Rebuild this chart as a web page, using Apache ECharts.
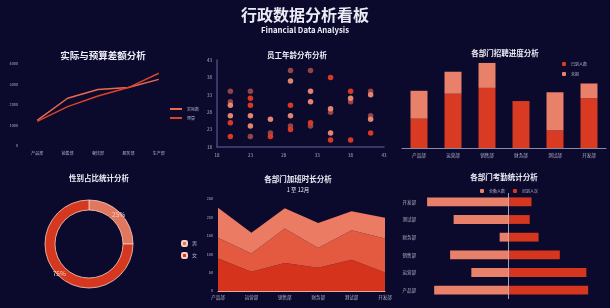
<!DOCTYPE html>
<html>
<head>
<meta charset="utf-8">
<title>行政数据分析看板</title>
<script src="https://cdn.jsdelivr.net/npm/echarts@6/dist/echarts.min.js"></script>
<style>
  html, body { margin: 0; padding: 0; background: #0b0a2d; }
  #main { width: 610px; height: 308px; }
</style>
</head>
<body>
<div id="main"></div>
<script>
// 数据区
var budgetDepts = ['产品部', '销售部', '餐饮部', '服务部', '生产部'];
var actualValues = [1250, 2330, 2760, 2850, 3250];
var budgetValues = [1200, 1920, 2440, 2850, 3550];

var depts = ['产品部', '运营部', '销售部', '财务部', '测试部', '开发部'];

// 员工年龄散点 [x, y]
var ageGroupA = [[20, 34], [20, 31], [23, 34], [23, 21], [26, 22], [29, 40], [29, 24], [32, 40], [32, 24], [35, 28], [38, 31], [41, 34], [41, 27]];
var ageGroupB = [[20, 30], [20, 27], [23, 27], [23, 24], [26, 26], [29, 37], [29, 27], [32, 34], [32, 31], [35, 29], [35, 22], [38, 32], [41, 33], [41, 26]];
var ageGroupC = [[20, 25], [20, 21], [23, 32], [23, 30], [26, 21], [29, 30], [29, 23], [32, 25], [35, 38], [35, 20], [38, 34], [38, 20], [41, 22]];

// 招聘进度
var arrivedValues = [20, 37, 41, 32, 12, 34];
var pendingValues = [19, 15, 17, 0, 26, 10];

// 性别占比
var genderNames = ['男', '女'];
var genderValues = [25, 75];

// 加班时长
var overtimeA = [88, 52, 76, 63, 85, 50];
var overtimeB = [57, 50, 94, 54, 80, 93];
var overtimeC = [81, 56, 55, 68, 52, 56];

// 考勤
var fullAttendance = [42, 21, 33, 5, 31, 46];
var lateCount = [45, 44, 29, 17, 12, 13];

(function () {
  var myChart = echarts.init(document.getElementById('main'))
  var labelColor = '#b4b4c8'
  var font = '"Noto Sans CJK SC", "Noto Sans", sans-serif'
  // 数字不加千分位
  var plain = function (v) { return String(v) }

  function title(text, x, y, size, weight) {
    return {
      type: 'text', x: x, y: y,
      style: {
        text: text, fill: '#ecebf5', textAlign: 'center', textVerticalAlign: 'middle',
        font: (weight || 'bold') + ' ' + size + 'px ' + font
      }
    }
  }

  var option = {
    backgroundColor: '#0b0a2d',
    textStyle: { fontFamily: font },
    graphic: [
      title('行政数据分析看板', 305, 15, 16),
      title('Financial Data Analysis', 305, 30.5, 7.8),
      title('实际与预算差额分析', 103, 55, 9.5),
      title('员工年龄分布分析', 297, 55, 7.5),
      title('各部门招聘进度分析', 505, 53, 7.5),
      title('性别占比统计分析', 99, 178, 7.5),
      title('各部门加班时长分析', 298, 179, 7.5),
      title('1 至 12月', 298, 190, 5.5, 'normal'),
      title('各部门考勤统计分析', 504, 177, 7.5)
    ],
    legend: [
      {
        data: ['实际数', '预算'], orient: 'vertical', left: 165, top: 102,
        itemWidth: 12, itemHeight: 2, itemGap: 5, icon: 'rect',
        textStyle: { color: labelColor, fontSize: 4 }
      },
      {
        data: ['已到人数', '未报'], left: 557, top: 57,
        itemWidth: 4, itemHeight: 4, itemGap: 6, icon: 'roundRect',
        textStyle: { color: labelColor, fontSize: 4 }
      },
      {
        data: genderNames, orient: 'vertical', left: 176, top: 235,
        itemWidth: 5, itemHeight: 5, itemGap: 5, icon: 'roundRect',
        textStyle: { color: labelColor, fontSize: 5 }
      },
      {
        data: ['全勤人数', '迟到人次'], left: 475, top: 184,
        itemWidth: 4, itemHeight: 4, itemGap: 8, icon: 'roundRect',
        textStyle: { color: labelColor, fontSize: 4 }
      }
    ],
    grid: [
      { left: 22, top: 64, width: 152, height: 82 },
      { left: 217, top: 60, width: 167, height: 87 },
      { left: 402, top: 60, width: 204, height: 88 },
      { left: 218, top: 199, width: 167, height: 92 },
      { left: 420, top: 193, width: 177, height: 106 }
    ],
    xAxis: [
      {
        gridIndex: 0, type: 'category', data: budgetDepts,
        axisLine: { show: false }, axisTick: { show: false },
        axisLabel: { color: labelColor, fontSize: 4, margin: 5 }
      },
      {
        gridIndex: 1, type: 'value', min: 18, max: 43, interval: 5,
        axisLine: { lineStyle: { color: '#48487a', width: 1.5 } }, axisTick: { show: false },
        splitLine: { show: false },
        axisLabel: { color: labelColor, fontSize: 4.5, margin: 6 }
      },
      {
        gridIndex: 2, type: 'category', data: depts,
        axisLine: { lineStyle: { color: '#8a8aa8' } }, axisTick: { show: false },
        axisLabel: { color: labelColor, fontSize: 4.5, margin: 5 }
      },
      {
        gridIndex: 3, type: 'category', data: depts, boundaryGap: false,
        axisLine: { lineStyle: { color: '#e8a898' } }, axisTick: { show: false },
        axisLabel: { color: labelColor, fontSize: 4.5, margin: 4 }
      },
      {
        gridIndex: 4, type: 'value', min: -50, max: 50, show: false
      }
    ],
    yAxis: [
      {
        gridIndex: 0, type: 'value', min: 0, max: 4000, interval: 1000,
        axisLine: { show: false }, axisTick: { show: false }, splitLine: { show: false },
        axisLabel: { color: labelColor, fontSize: 3.8, margin: 4, formatter: plain }
      },
      {
        gridIndex: 1, type: 'value', min: 18, max: 43, interval: 5,
        axisLine: { show: true, lineStyle: { color: '#48487a', width: 1.5 } }, axisTick: { show: false },
        splitLine: { show: false },
        axisLabel: { color: labelColor, fontSize: 4.5, margin: 5 }
      },
      {
        gridIndex: 2, type: 'value', min: 0, max: 60, show: false
      },
      {
        gridIndex: 3, type: 'value', min: 0, max: 250, interval: 50,
        axisLine: { show: false }, axisTick: { show: false }, splitLine: { show: false },
        axisLabel: { color: labelColor, fontSize: 3.8, margin: 5, formatter: plain }
      },
      {
        gridIndex: 4, type: 'category', data: depts,
        axisLine: { show: false, onZero: false }, axisTick: { show: false },
        axisLabel: { color: labelColor, fontSize: 4.5, margin: 4 }
      }
    ],
    series: [
      // 实际与预算
      {
        name: '实际数', type: 'line', xAxisIndex: 0, yAxisIndex: 0, data: actualValues,
        symbol: 'none', lineStyle: { width: 1.5, color: '#ea6a4f' }, itemStyle: { color: '#ea6a4f' }
      },
      {
        name: '预算', type: 'line', xAxisIndex: 0, yAxisIndex: 0, data: budgetValues,
        symbol: 'none', lineStyle: { width: 1.5, color: '#d8432a' }, itemStyle: { color: '#d8432a' }
      },
      // 年龄散点
      {
        name: '年龄A', type: 'scatter', xAxisIndex: 1, yAxisIndex: 1, data: ageGroupA,
        symbolSize: 5.5, itemStyle: { color: '#9c4848', opacity: 0.95 }
      },
      {
        name: '年龄B', type: 'scatter', xAxisIndex: 1, yAxisIndex: 1, data: ageGroupB,
        symbolSize: 5.5, itemStyle: { color: '#ee8b72', opacity: 0.95 }
      },
      {
        name: '年龄C', type: 'scatter', xAxisIndex: 1, yAxisIndex: 1, data: ageGroupC,
        symbolSize: 5.5, itemStyle: { color: '#e33c22', opacity: 0.95 }
      },
      // 招聘进度
      {
        name: '已到人数', type: 'bar', stack: 'hire', xAxisIndex: 2, yAxisIndex: 2,
        data: arrivedValues, barWidth: '50%', itemStyle: { color: '#d93a22' }
      },
      {
        name: '未报', type: 'bar', stack: 'hire', xAxisIndex: 2, yAxisIndex: 2,
        data: pendingValues, barWidth: '50%', itemStyle: { color: '#e8806a' }
      },
      // 性别占比
      {
        name: '性别', type: 'pie', center: [89, 244], radius: [34, 44],
        data: genderNames.map(function (n, i) { return { name: n, value: genderValues[i] } }),
        color: ['#e2775f', '#d6381f'],
        itemStyle: { borderColor: '#f3cfc4', borderWidth: 0.8 },
        label: { position: 'inside', formatter: '{d}%', color: '#f5cfc4', fontSize: 6.5 },
        labelLine: { show: false }
      },
      // 加班时长
      {
        name: '加班A', type: 'line', stack: 'ot', xAxisIndex: 3, yAxisIndex: 3, data: overtimeA,
        symbol: 'none', lineStyle: { width: 0 }, areaStyle: { color: '#d5331c', opacity: 1 }
      },
      {
        name: '加班B', type: 'line', stack: 'ot', xAxisIndex: 3, yAxisIndex: 3, data: overtimeB,
        symbol: 'none', lineStyle: { width: 0 }, areaStyle: { color: '#e35a40', opacity: 1 }
      },
      {
        name: '加班C', type: 'line', stack: 'ot', xAxisIndex: 3, yAxisIndex: 3, data: overtimeC,
        symbol: 'none', lineStyle: { width: 0 }, areaStyle: { color: '#eb7c63', opacity: 1 }
      },
      // 考勤
      {
        name: '全勤人数', type: 'bar', stack: 'att', xAxisIndex: 4, yAxisIndex: 4,
        data: fullAttendance.map(function (v) { return -v }), barWidth: '50%',
        itemStyle: { color: '#e9806a' }
      },
      {
        name: '迟到人次', type: 'bar', stack: 'att', xAxisIndex: 4, yAxisIndex: 4,
        data: lateCount, barWidth: '50%', itemStyle: { color: '#d6361e' },
        markLine: {
          silent: true, symbol: 'none', label: { show: false },
          lineStyle: { color: '#c8c8d8', width: 0.8, type: 'solid' },
          data: [{ xAxis: 0 }]
        }
      }
    ]
  }
  myChart.setOption(option)
  window.addEventListener('resize', function () {
    myChart.resize()
  })
})();
</script>
</body>
</html>
